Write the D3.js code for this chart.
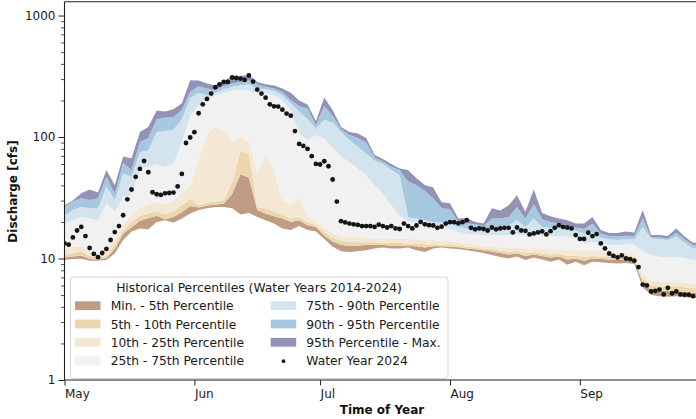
<!DOCTYPE html>
<html>
<head>
<meta charset="utf-8">
<script src="https://cdn.jsdelivr.net/npm/d3@7"></script>
<style>
  html, body { margin: 0; padding: 0; background: #ffffff; }
  svg { display: block; font-family: "DejaVu Sans", sans-serif; }
</style>
</head>
<body>
<svg id="chart" width="696" height="419"></svg>
<script>
// ---------------- DATA ----------------
// Percentile boundaries, sampled every 2 days from May 1 to Sep 30 (cfs)
const pMin = [9.7,9.9,9.95,9.6,9.6,9.7,11,14.2,16.7,17.7,17.4,20,20.7,19.7,21.3,23.5,
  25.1,25.9,26.6,26.6,25.9,23,23.7,22,20.7,19.4,17.7,17.2,18.5,17.2,16.7,14.5,
  12.5,11.5,11.3,11.5,11.7,12.1,12.3,12.1,12.1,12.3,11.7,11.3,12.1,12.3,12.1,
  12.0,11.7,11.4,11.1,10.7,10.3,10.0,10.4,9.7,10.2,9.8,9.4,9.8,8.9,9.4,
  8.8,9.4,9.3,9.2,9.1,9.2,9.0,5.8,5.0,4.9,4.85,4.9,4.8,4.75,4.75];
const p5 = [10.2,10.4,10.6,9.9,9.8,10.1,12,16,18,20.5,21.5,22.5,21,22,24,27,
  26.3,27.2,27.9,28.3,34,49.5,46.5,25.1,23.5,22.3,21.3,20,20.7,18.8,18.2,15.5,
  13.8,13.0,12.7,12.8,12.9,13.0,12.9,12.8,12.8,12.7,12.6,12.3,12.6,12.6,12.5,
  12.4,12.1,11.9,11.7,11.4,11.1,10.8,11.0,10.5,10.8,10.5,10.2,10.4,9.8,10.0,
  9.6,10.0,9.9,9.8,9.8,9.8,9.6,6.3,5.5,5.4,5.4,5.4,5.3,5.2,5.2];
const p10 = [10.8,11.1,11.5,10.5,10.2,10.5,13,17,20,22.5,23.5,24.5,23,24.5,27.5,31,
  27.5,28.8,29.4,30.3,42,77,73,26.6,25.9,24.3,22.8,21.3,22,20,18.8,16.5,
  14.8,14.0,13.7,13.7,13.6,13.6,13.5,13.4,13.4,13.3,13.2,13.1,13.1,13.0,12.9,
  12.8,12.5,12.3,12.1,11.9,11.6,11.4,11.5,11.1,11.3,11.0,10.8,10.9,10.5,10.6,
  10.3,10.5,10.4,10.4,10.3,10.3,10.2,6.8,6.0,5.9,5.9,5.9,5.8,5.7,5.7];
const p25 = [12,12.5,12.5,11.5,10.8,11.7,14.5,19,23,26,28,29,28,30,35,40,
  65,105,121,115,91,102,91,50,72,53.5,30,28,32,22,20.7,18,
  16,15.2,15,15,14.9,14.8,14.7,14.6,14.6,14.5,14.4,14.3,14.2,14.0,13.8,
  13.5,13.2,13.0,12.8,12.6,12.4,12.3,12.3,12.1,12.2,12.0,11.9,11.9,11.7,11.7,
  11.5,11.8,11.3,11.2,11.1,11.1,11.0,7.5,6.6,6.5,6.4,6.5,6.3,6.2,6.2];
const p75 = [19.4,20.7,22,21.3,20.7,28.3,24.3,32,33.2,55,57,60,57,60,90,150,
  183,202,220,232,240,244,240,230,230,221,202,167,108,94.5,104,96,
  82,69,62,55,48,40,34.5,27.5,22.3,20.4,19.7,18.8,18.4,18,17.7,
  16.5,16.0,15.8,15.6,15.6,15.6,15.6,15.8,15.6,15.8,15.5,15.4,15.3,15.2,15.0,
  13.3,13.7,13.3,12.9,12.9,13.1,12.9,11.5,10.7,10.3,10.2,10.3,10.0,9.7,9.7];
const p90 = [22.8,25.1,26.6,25.9,25.9,39,30.3,50,47,75,78,110,112,115,140,210,
  230,221,230,247,259,266,272,251,247,240,221,190,162,140,118,138,
  132,110,94.5,83,73,64,60,53.5,48.6,22,21.3,20.7,20,19.7,19.4,
  18.2,17.7,17.7,17.2,18.2,18.2,18.8,20.7,18.2,21.3,18.2,18,17.7,17.2,17,
  16,16.5,14.9,14.4,14.2,14.4,14.4,18.2,14.6,14.4,14.2,15.2,13.5,12.1,12.1];
const p95 = [26.6,29.4,31.3,30.3,31.3,47,34,61,53.5,91,98,140,145,145,167,235,
  262,251,244,262,276,284,292,272,259,251,235,202,180,172,125,180,
  150,116,104,98,90,68,63,57,53.5,43,40.2,36,31.3,26,25.4,
  20,19.5,19.1,18.5,21.3,21.3,22,26.6,21.3,28,21,20,19.4,18.8,18,
  17.5,19.4,16.1,15.3,15.2,15.4,15.3,21.4,14.9,14.9,14.6,16.3,14.4,12.9,12.9];
const pMax = [27.5,30,34.5,37,35,53.5,40,69,67,110,121,165,162,169,190,294,
  292,276,266,292,312,318,325,284,272,266,251,232,200,185,135,212,
  167,121,110,107,98,71,66,60,55,53.5,45.7,40.2,38.5,29,28.5,
  21.3,21.5,20,19.4,25.9,24.8,27.5,33.2,24.3,37,23.7,22.3,21.3,20.7,19.4,
  19.4,22,17.2,16.2,16.2,16.7,16.4,25.1,15.6,15.6,15.3,17.7,15.2,13.5,13.5];

// Water Year 2024 daily discharge, May 1 onward (cfs)
const wy2024 = [13.3,13.0,14.9,17.0,18.2,15.3,12.2,10.9,10.25,11.1,12.0,14.2,16.5,18.5,22.7,30.7,
  37.0,47.0,54.6,63.5,51.3,35.1,33.8,33.4,34.4,34.6,34.9,39.2,49.7,89.3,99.1,
  109.6,157,186,206,228,257,271,284,284,309,306,303,295,321,286,246,228,211,186,179,
  178,168,156,150,112,87.7,84.5,79.8,69.5,60.1,
  59.4,63.2,57.5,44.7,29.4,20.3,19.8,19.4,19.1,18.9,18.5,18.5,18.5,18.2,19.0,18.5,
  18.0,18.5,17.7,17.5,19.4,18.5,17.7,18.7,20.0,19.1,18.8,18.7,17.9,18.3,19.4,
  19.9,19.9,19.5,19.9,20.7,17.9,17.4,17.7,17.5,17.0,18.0,17.4,17.7,17.9,17.9,
  16.4,18.0,17.0,16.9,15.8,16.1,16.4,16.7,15.8,16.8,17.9,18.8,18.2,18.0,17.7,
  15.6,14.5,14.5,16.3,15.3,15.9,13.3,12.1,11.0,10.5,10.2,10.6,10.0,9.9,9.6,8.5,
  6.1,6.0,5.35,5.4,5.55,5.06,5.74,5.16,5.35,5.06,5.03,5.03,4.9];

const yMajorTicks = [1, 10, 100, 1000];
const monthTickLabels = ["May", "Jun", "Jul", "Aug", "Sep"];
const legendTitle = "Historical Percentiles (Water Years 2014-2024)";
const bandLabels = ["Min. - 5th Percentile", "5th - 10th Percentile", "10th - 25th Percentile",
  "25th - 75th Percentile", "75th - 90th Percentile", "90th - 95th Percentile", "95th Percentile - Max."];
const pointLabel = "Water Year 2024";

// ---------------- LAYOUT ----------------
const W = 696, H = 419;
const plotLeft = 64.5, plotBottom = 380, plotTop = 1.7;
const pxPerDay = 4.19;
const startDate = new Date(Date.UTC(2024, 4, 1));
const endDate = new Date(Date.UTC(2024, 8, 30));
const bandColors = ["#c09c84", "#ecd6ad", "#f4e8d4", "#f1f1f1", "#d3e4ee", "#a7c9df", "#9393b8"];

const bandDates = d3.utcDay.range(startDate, new Date(Date.UTC(2024, 9, 1)), 2);
const dotDates = d3.utcDay.range(startDate, new Date(Date.UTC(2024, 8, 29)));

const x = d3.scaleUtc().domain([startDate, endDate]).range([plotLeft, plotLeft + 152 * pxPerDay]);
const y = d3.scaleLog().domain([1, 1300]).range([plotBottom, plotTop]);

const svg = d3.select("#chart");
svg.append("defs").append("clipPath").attr("id", "plotclip")
  .append("rect").attr("x", plotLeft).attr("y", plotTop).attr("width", W - plotLeft).attr("height", plotBottom - plotTop);

const plot = svg.append("g").attr("clip-path", "url(#plotclip)");

const bounds = [pMin, p5, p10, p25, p75, p90, p95, pMax];
for (let b = 0; b < 7; b++) {
  const lo = bounds[b], hi = bounds[b + 1];
  const area = d3.area()
    .x((d, i) => x(bandDates[i]))
    .y0((d, i) => y(lo[i]))
    .y1((d, i) => y(hi[i]));
  plot.append("path").datum(bandDates).attr("d", area).attr("fill", bandColors[b]);
}

plot.selectAll("circle.obs").data(wy2024).enter().append("circle")
  .attr("class", "obs")
  .attr("cx", (d, i) => x(dotDates[i]))
  .attr("cy", d => y(d))
  .attr("r", 2.4)
  .attr("fill", "#151515");

// ---------------- AXES ----------------
const minorTicks = [];
[1, 10, 100, 1000].forEach(e => { for (let m = 2; m <= 9; m++) { const v = m * e; if (v <= 1300) minorTicks.push(v); } });

const yAxisMajor = d3.axisLeft(y).tickValues(yMajorTicks).tickFormat(d3.format("d")).tickSize(6).tickPadding(3).tickSizeOuter(0);
const gy = svg.append("g").attr("transform", `translate(${plotLeft},0)`).call(yAxisMajor);
gy.select(".domain").remove();
gy.selectAll("line").attr("stroke", "#222").attr("stroke-width", 1);
gy.selectAll("text").attr("font-size", 12).attr("fill", "#1a1a1a").attr("font-family", "DejaVu Sans");

const yAxisMinor = d3.axisLeft(y).tickValues(minorTicks).tickFormat("").tickSize(3.5).tickSizeOuter(0);
const gym = svg.append("g").attr("transform", `translate(${plotLeft},0)`).call(yAxisMinor);
gym.select(".domain").remove();
gym.selectAll("line").attr("stroke", "#222").attr("stroke-width", 0.8);

const monthTicks = d3.utcMonth.range(startDate, endDate);
const xAxis = d3.axisBottom(x).tickValues(monthTicks)
  .tickFormat((d, i) => monthTickLabels[i]).tickSize(5.5).tickPadding(4).tickSizeOuter(0);
const gx = svg.append("g").attr("transform", `translate(0,${plotBottom})`).call(xAxis);
gx.select(".domain").remove();
gx.selectAll("line").attr("stroke", "#222").attr("stroke-width", 1);
gx.selectAll("text").attr("font-size", 12).attr("fill", "#1a1a1a")
  .attr("font-family", "DejaVu Sans").attr("text-anchor", "start").attr("x", 0);

// spines
const spineColor = "#1e1e1e";
svg.append("line").attr("x1", plotLeft).attr("x2", plotLeft).attr("y1", plotTop).attr("y2", plotBottom)
  .attr("stroke", spineColor).attr("stroke-width", 1.1);
svg.append("line").attr("x1", plotLeft).attr("x2", W).attr("y1", plotTop).attr("y2", plotTop)
  .attr("stroke", spineColor).attr("stroke-width", 1.1);
svg.append("line").attr("x1", plotLeft).attr("x2", W).attr("y1", plotBottom).attr("y2", plotBottom)
  .attr("stroke", spineColor).attr("stroke-width", 1.1);

// axis titles
svg.append("text").attr("transform", "translate(16.8,191.5) rotate(-90)")
  .attr("text-anchor", "middle").attr("font-size", 12).attr("font-weight", "bold")
  .attr("fill", "#111").text("Discharge [cfs]");
svg.append("text").attr("x", 382).attr("y", 414).attr("text-anchor", "middle")
  .attr("font-size", 12).attr("font-weight", "bold").attr("fill", "#111").text("Time of Year");

// ---------------- LEGEND ----------------
const lg = svg.append("g");
lg.append("rect").attr("x", 70.5).attr("y", 277).attr("width", 377.5).attr("height", 101.5)
  .attr("rx", 3).attr("fill", "#ffffff").attr("fill-opacity", 0.9)
  .attr("stroke", "#d4d4d4").attr("stroke-width", 1);
lg.append("text").attr("x", 259).attr("y", 292).attr("text-anchor", "middle")
  .attr("font-size", 12.3).attr("fill", "#1a1a1a").text(legendTitle);
const rowY = [305.7, 324, 342.3, 360.7];
const entries = bandLabels.map((lab, i) => ({ lab, color: bandColors[i], type: "patch" }));
entries.push({ lab: pointLabel, type: "dot" });
entries.forEach((e, i) => {
  const col = i < 4 ? 0 : 1;
  const row = i < 4 ? i : i - 4;
  const px = col === 0 ? 75 : 270.7;
  const tx = col === 0 ? 110.7 : 306.3;
  const cy = rowY[row];
  if (e.type === "patch") {
    lg.append("rect").attr("x", px).attr("y", cy - 4.4).attr("width", 25.5).attr("height", 8.8).attr("fill", e.color);
  } else {
    lg.append("circle").attr("cx", px + 12.8).attr("cy", cy + 0.5).attr("r", 1.9).attr("fill", "#151515");
  }
  lg.append("text").attr("x", tx).attr("y", cy + 4.5).attr("font-size", 12.3).attr("fill", "#1a1a1a").text(e.lab);
});
</script>
</body>
</html>
